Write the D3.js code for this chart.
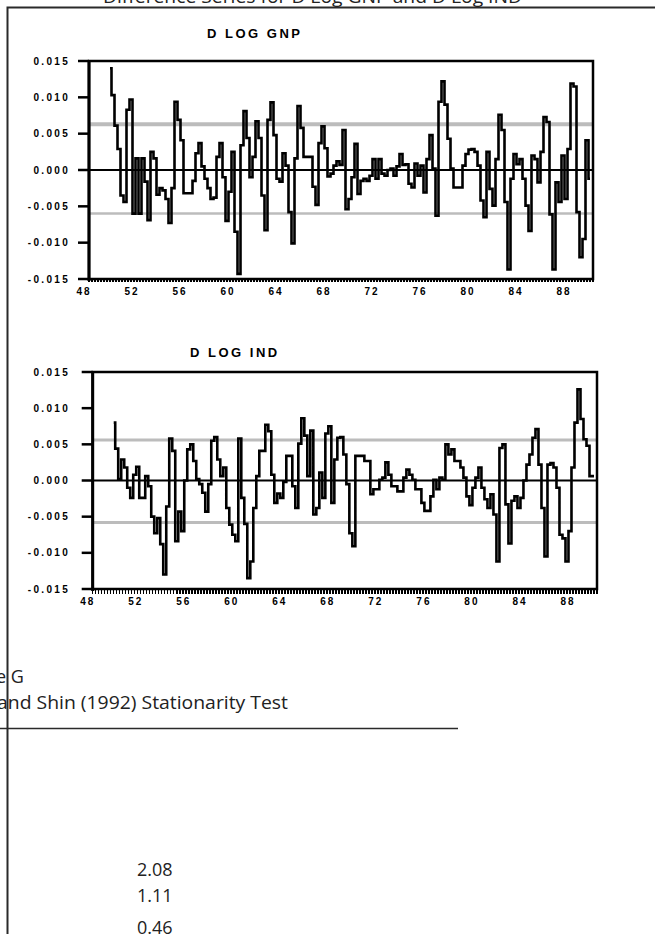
<!DOCTYPE html>
<html>
<head>
<meta charset="utf-8">
<script src="https://cdn.jsdelivr.net/npm/d3@7"></script>
<style>
  body { margin: 0; background: #fff; }
  svg { display: block; }
</style>
</head>
<body>
<div id="chart"></div>
<script>
// Quarterly first differences of logs, in units of 0.001.
// x axis counts quarters from 1948Q1; first observation is quarter 7.
const firstQuarter = 7;
const totalQuarters = 168;

const gnpValues = [
  14.0, 10.3, 6.1, 2.9, -3.5, -4.4, 8.3, 9.7, -6.0, 1.6,
  -6.0, 1.6, -1.6, -6.9, 2.5, 1.6, -3.4, -2.5, -2.8, -4.0,
  -7.3, -2.5, 9.4, 6.9, 4.1, -3.2, -3.2, -3.2, -1.5, 2.3,
  3.7, 0.5, -1.2, -2.5, -4.0, -3.8, 1.8, 3.7, -1.0, -7.0,
  -3.0, 2.5, -8.5, -14.3, 3.4, 8.1, 4.4, -1.0, 1.8, 6.7,
  4.4, -3.5, -8.3, 6.9, 9.3, 4.8, -1.2, -1.6, 2.3, 0.6,
  -5.8, -10.1, 1.6, 8.8, 5.8, 1.8, 1.8, 1.8, -2.3, -4.8,
  3.7, 6.0, 3.0, -0.9, -0.5, 0.6, 1.2, 0.7, 5.5, -5.4,
  -4.0, -1.0, 3.6, -3.3, -1.5, -1.2, -1.5, -0.8, 1.5, -1.2,
  1.5, -0.5, -0.8, 0.0, 0.2, -0.8, 0.5, 2.2, 0.7, 0.8,
  -1.9, -2.4, 0.9, -0.8, 0.6, -3.1, 1.5, 4.8, 0.2, -6.3,
  9.4, 12.2, 9.0, 4.3, 0.2, -2.4, -2.4, -2.4, 0.6, 2.2,
  2.8, 2.9, 2.5, 0.6, -4.2, -6.5, 2.5, -2.6, -4.9, 1.5,
  7.6, 5.5, -4.4, -13.7, -1.2, 2.2, 0.8, 1.5, -1.2, -4.9,
  -8.4, 2.0, 1.5, -1.7, 2.5, 7.3, 6.6, -6.1, -13.7, -1.7,
  -4.4, 2.0, -4.0, 2.9, 11.9, 11.5, -5.8, -12.0, -9.5, 4.1,
  -1.2
];

const indValues = [
  8.0, 4.4, 0.2, 2.9, 1.8, -1.0, -2.4, 0.8, 1.9, -2.4,
  -2.4, 0.6, -0.8, -5.0, -7.3, -5.2, -8.8, -13.0, -3.6, 5.8,
  4.1, -8.4, -4.3, -7.0, 0.0, 4.3, 5.0, 2.7, 0.2, -0.5,
  -1.7, -4.3, -0.5, 5.5, 6.0, 2.9, 0.6, 1.8, -3.8, -6.1,
  -7.5, -8.4, 5.8, -2.4, -6.0, -13.5, -11.2, -3.8, 0.6, 4.1,
  4.1, 7.7, 6.8, 0.8, -3.1, -1.8, -2.4, -0.2, 3.4, 3.4,
  -0.8, -3.8, 5.1, 8.6, 6.2, 0.6, 6.9, -4.7, -3.8, 1.1,
  -2.4, 6.5, 7.5, -3.1, 2.9, 5.9, 6.0, 3.6, -0.5, -7.3,
  -9.1, 3.4, 3.4, 3.4, 2.7, 2.7, -1.9, -1.2, -1.2, 0.1,
  0.4, 2.5, 0.8, -0.8, -0.8, -1.5, -1.5, 0.4, 1.5, 0.8,
  0.1, -1.2, -1.2, -3.1, -4.2, -4.2, -2.2, 0.1, -1.2, 0.4,
  0.1, 5.0, 3.6, 4.3, 2.7, 2.7, 1.8, 0.4, -2.2, -3.4,
  -1.0, 0.4, 1.8, -1.0, -2.6, -3.8, -1.9, -4.7, -11.2, 4.5,
  5.0, -3.3, -8.7, -2.8, -2.2, -3.8, -2.4, 0.0, 2.2, 3.6,
  5.9, 7.1, 2.2, -3.8, -10.5, 2.2, 2.4, 1.8, -1.0, -7.5,
  -8.0, -11.2, -7.0, 1.8, 8.0, 12.6, 8.5, 5.7, 4.8, 0.6,
  0.6
];

// +/- 2 s.e. reference lines (same units)
const gnpBands = [6.3, -6.0];
const indBands = [5.6, -5.8];

const yTicks = [15, 10, 5, 0, -5, -10, -15];
const yTickLabels = ['0.015', '0.010', '0.005', '0.000', '-0.005', '-0.010', '-0.015'];
const yearQuarters = [0, 16, 32, 48, 64, 80, 96, 112, 128, 144, 160];
const yearLabels = ['48', '52', '56', '60', '64', '68', '72', '76', '80', '84', '88'];
const statValues = ['2.08', '1.11', '0.46'];

const width = 655;
const height = 934;

const svg = d3.select('#chart')
  .append('svg')
  .attr('width', width)
  .attr('height', height);

const textFont = '"Open Sans", "Noto Sans", sans-serif';
const pixFont = '"Liberation Sans", Arial, sans-serif';

// Outer box (top and left edges visible)
svg.append('path')
  .attr('d', 'M7.5,1000 V7.5 H700')
  .attr('fill', 'none')
  .attr('stroke', '#2a2a2a')
  .attr('stroke-width', 2);

// Figure title, mostly cut off at the top
svg.append('text')
  .attr('x', 103)
  .attr('y', 3)
  .attr('font-family', textFont)
  .attr('font-size', 18)
  .attr('fill', '#222')
  .attr('textLength', 419)
  .attr('lengthAdjust', 'spacingAndGlyphs')
  .text('Difference Series for D Log GNP and D Log IND');

function drawPanel(values, bands, opt) {
  const x = d3.scaleLinear()
    .domain([0, totalQuarters])
    .range([opt.left, opt.right]);

  const y = d3.scaleLinear()
    .domain([-15, 15])
    .range([opt.bottom, opt.top]);

  const g = svg.append('g');

  // Panel title
  g.append('text')
    .attr('x', opt.titleX)
    .attr('y', opt.titleY)
    .attr('font-family', pixFont)
    .attr('font-size', 13)
    .attr('font-weight', 'bold')
    .attr('letter-spacing', 2.5)
    .attr('fill', '#000')
    .text(opt.title);

  // Reference bands
  g.selectAll('.band')
    .data(bands)
    .join('line')
    .attr('class', 'band')
    .attr('x1', opt.left).attr('x2', opt.right)
    .attr('y1', d => y(d)).attr('y2', d => y(d))
    .attr('stroke', '#bcbcbc')
    .attr('stroke-width', (d, i) => opt.bandWidths[i]);

  // Zero line
  g.append('line')
    .attr('x1', opt.left).attr('x2', opt.right)
    .attr('y1', y(0)).attr('y2', y(0))
    .attr('stroke', '#000')
    .attr('stroke-width', 2);

  // Series
  const pts = values.map((v, i) => [firstQuarter + i, v]);
  const line = d3.line()
    .curve(d3.curveStep)
    .x(d => x(d[0]))
    .y(d => y(d[1]));

  g.append('path')
    .datum(pts)
    .attr('d', line)
    .attr('fill', 'none')
    .attr('stroke', '#000')
    .attr('stroke-width', 2.6)
    .attr('stroke-linejoin', 'miter');

  // Frame
  g.append('rect')
    .attr('x', opt.left)
    .attr('y', y(15))
    .attr('width', opt.right - opt.left)
    .attr('height', y(-15) - y(15))
    .attr('fill', 'none')
    .attr('stroke', '#000')
    .attr('stroke-width', 2.5);

  g.append('line')
    .attr('x1', opt.left).attr('x2', opt.left)
    .attr('y1', y(15) - 1).attr('y2', y(-15) + 2)
    .attr('stroke', '#000')
    .attr('stroke-width', 3);

  // Y ticks and labels
  g.selectAll('.ytick')
    .data(yTicks)
    .join('line')
    .attr('class', 'ytick')
    .attr('x1', opt.left - 11).attr('x2', opt.left)
    .attr('y1', d => y(d)).attr('y2', d => y(d))
    .attr('stroke', '#000')
    .attr('stroke-width', 2.5);

  g.selectAll('.ylab')
    .data(yTicks)
    .join('text')
    .attr('class', 'ylab')
    .attr('x', 70)
    .attr('y', d => y(d))
    .attr('dy', '0.35em')
    .attr('text-anchor', 'end')
    .attr('font-family', pixFont)
    .attr('font-size', 10)
    .attr('font-weight', 'bold')
    .attr('letter-spacing', 2.3)
    .attr('fill', '#000')
    .text((d, i) => yTickLabels[i]);

  // Quarterly ticks under the bottom edge
  g.selectAll('.qtick')
    .data(d3.range(0, totalQuarters + 1))
    .join('line')
    .attr('class', 'qtick')
    .attr('x1', d => x(d)).attr('x2', d => x(d))
    .attr('y1', y(-15)).attr('y2', y(-15) + opt.tickLen)
    .attr('stroke', '#000')
    .attr('stroke-width', 1.5)
    .attr('shape-rendering', 'crispEdges');

  // Year labels
  g.selectAll('.xlab')
    .data(yearQuarters)
    .join('text')
    .attr('class', 'xlab')
    .attr('x', d => x(d) - 5)
    .attr('y', y(-15) + 16)
    .attr('text-anchor', 'middle')
    .attr('font-family', pixFont)
    .attr('font-size', 10)
    .attr('font-weight', 'bold')
    .attr('letter-spacing', 2)
    .attr('fill', '#000')
    .text((d, i) => yearLabels[i]);
}

drawPanel(gnpValues, gnpBands, {
  title: 'D LOG GNP', titleX: 207, titleY: 38,
  left: 89, right: 593, top: 61, bottom: 279,
  bandWidths: [4, 2.5], tickLen: 3
});

drawPanel(indValues, indBands, {
  title: 'D LOG IND', titleX: 190, titleY: 357,
  left: 92.7, right: 597, top: 372, bottom: 589,
  bandWidths: [3, 3], tickLen: 5
});

// Table fragment below the figure
svg.append('text')
  .attr('x', -4)
  .attr('y', 683)
  .attr('font-family', textFont)
  .attr('font-size', 18)
  .attr('fill', '#222')
  .text('e G');

svg.append('text')
  .attr('x', -3)
  .attr('y', 709)
  .attr('font-family', textFont)
  .attr('font-size', 18)
  .attr('fill', '#222')
  .attr('textLength', 291)
  .attr('lengthAdjust', 'spacingAndGlyphs')
  .text('and Shin (1992) Stationarity Test');

svg.append('line')
  .attr('x1', 0).attr('x2', 458)
  .attr('y1', 728.5).attr('y2', 728.5)
  .attr('stroke', '#2a2a2a')
  .attr('stroke-width', 1.5);

const statY = [876, 902, 934];
svg.selectAll('.stat')
  .data(statValues)
  .join('text')
  .attr('class', 'stat')
  .attr('x', 137)
  .attr('y', (d, i) => statY[i])
  .attr('font-family', textFont)
  .attr('font-size', 18)
  .attr('fill', '#222')
  .text(d => d);
</script>
</body>
</html>
